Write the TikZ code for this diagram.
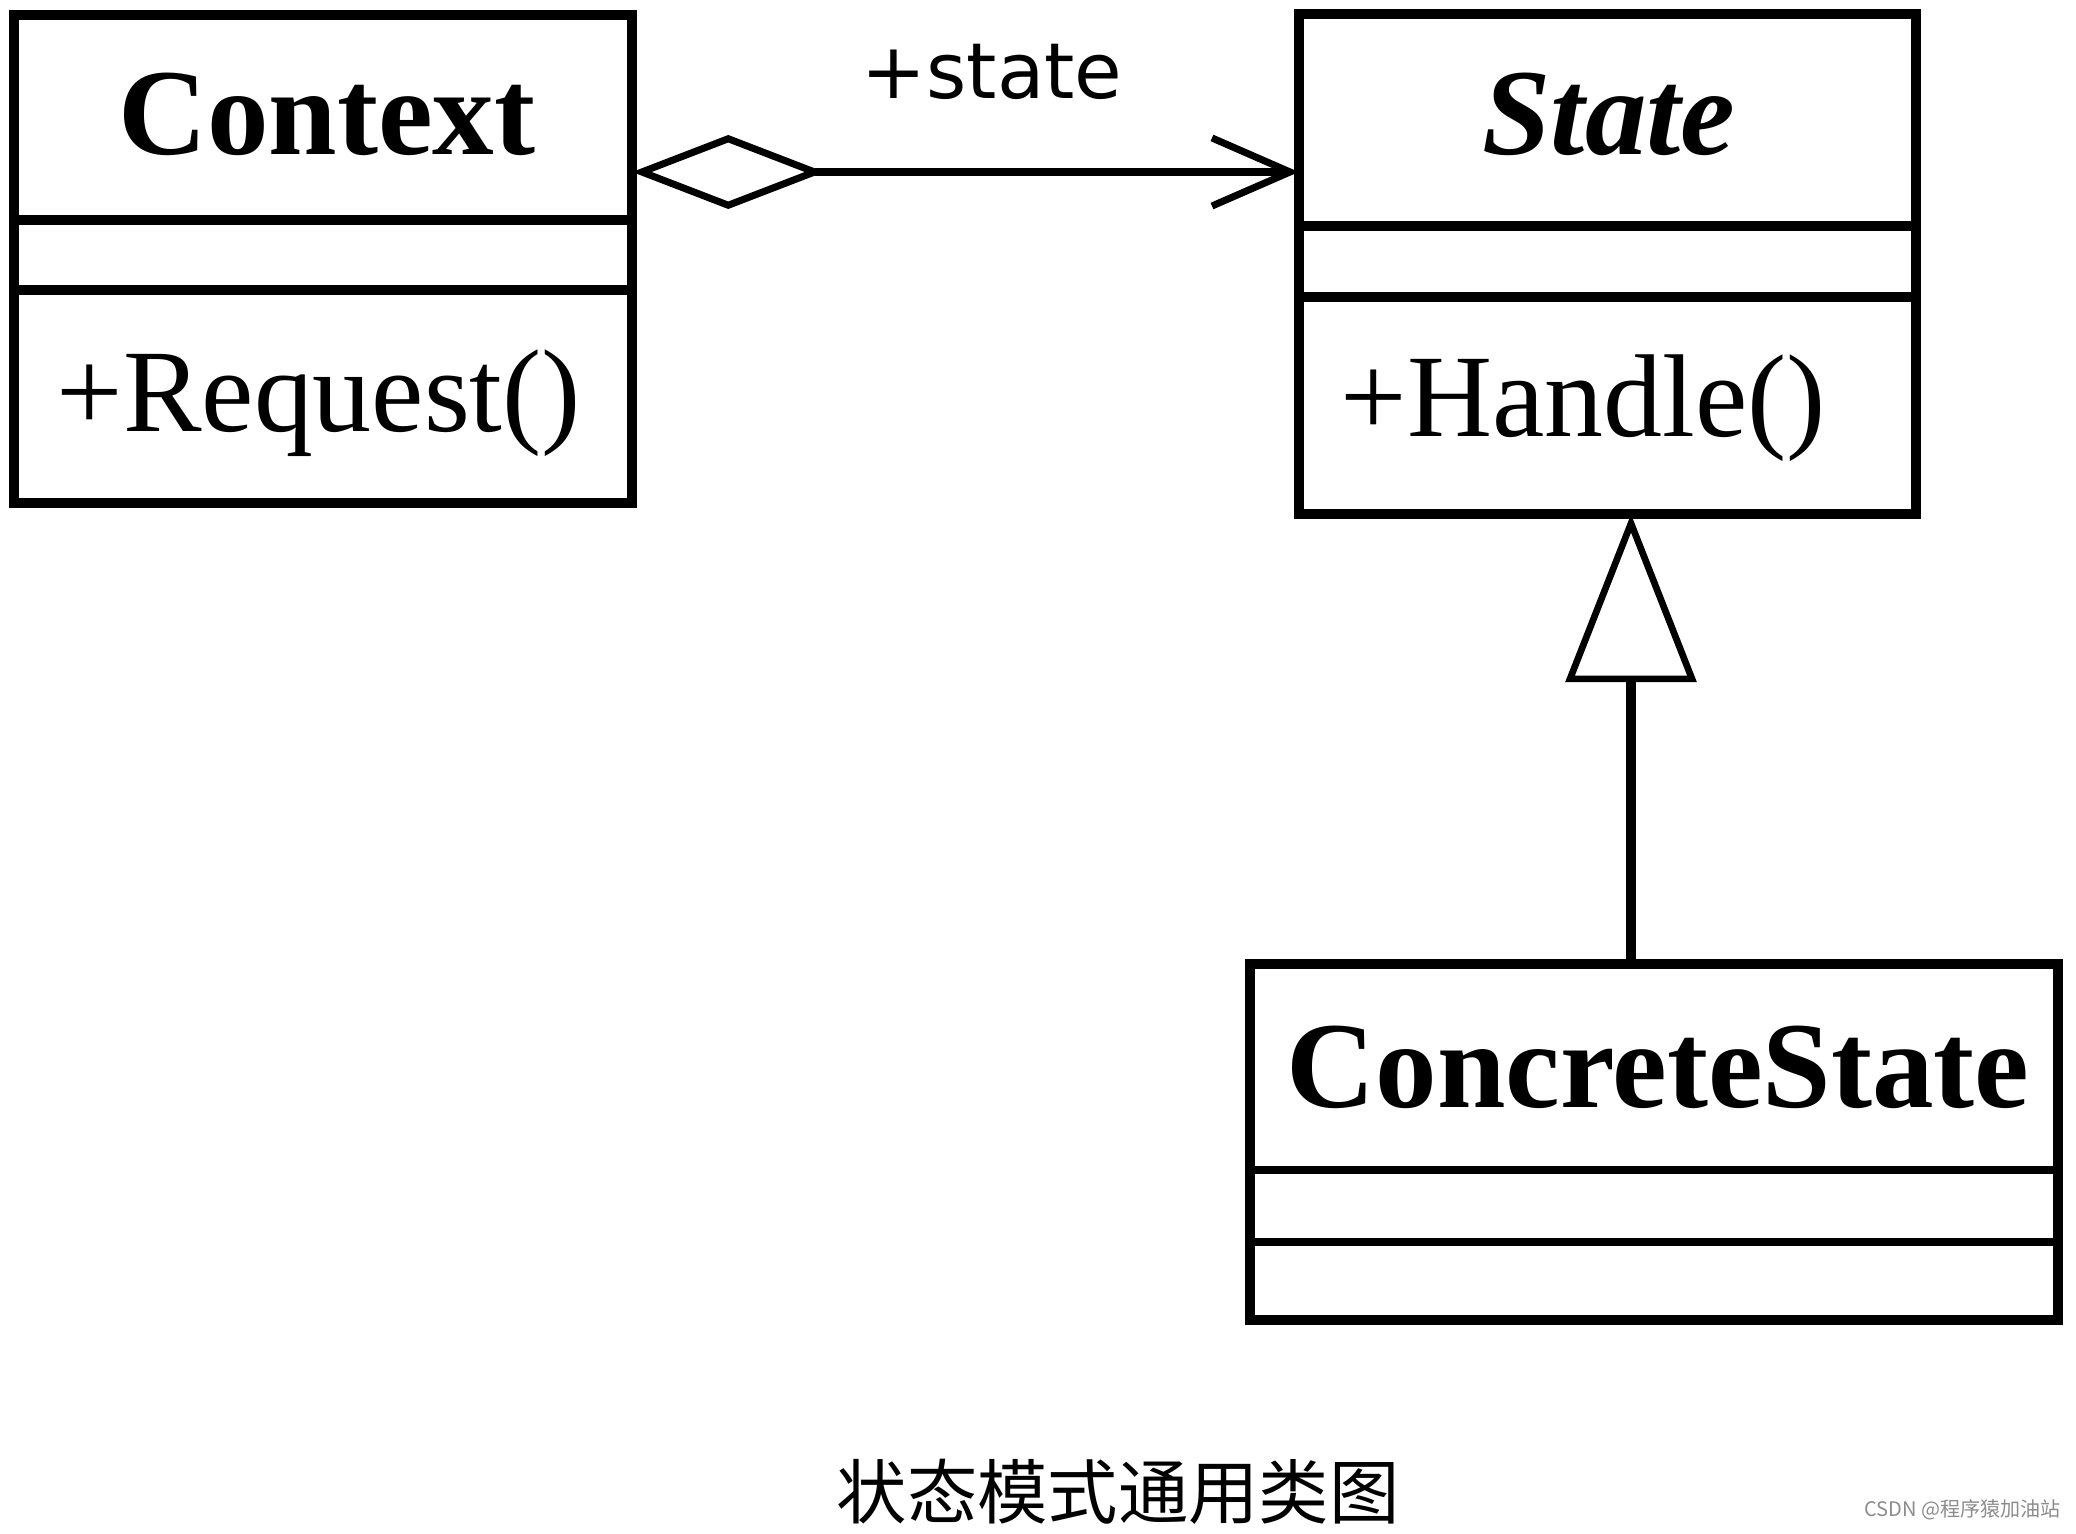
\documentclass[tikz,border=0pt]{standalone}
\usepackage{fontspec}
\setmainfont{Liberation Serif}
\newfontfamily\labelfont{DejaVu Sans}
\newfontfamily\cjkfont{Noto Sans CJK SC}
\usetikzlibrary{arrows.meta}

\begin{document}
\begin{tikzpicture}[x=0.01cm, y=-0.01cm,
	classbox/.style={draw, line width=2.8pt, inner sep=0pt, outer sep=0pt},
	classname/.style={font=\fontsize{35}{40}\selectfont\bfseries, anchor=base, inner sep=0pt},
	method/.style={font=\fontsize{33.5}{38}\selectfont, anchor=base west, inner sep=0pt},
	divider/.style={line width=2.8pt},
	thindivider/.style={line width=2.1pt}]
				\useasboundingbox (0,0) rectangle (2076,1534);
				\fill[white] (0,0) rectangle (2076,1534);
				%Classe Context
				\node[classbox, minimum width=6.18cm, minimum height=4.88cm] (ctx) at (323,259) {};
				\node[classname] (ctxname) at (327,155) {Context};
				\draw[divider] (ctx.west |- 0,220) -- (ctx.east |- 0,220);
				\draw[divider] (ctx.west |- 0,290) -- (ctx.east |- 0,290);
				\node[method] (request) at (56,432) {+Request()};
				%Classe State
				\node[classbox, minimum width=6.17cm, minimum height=5.0cm] (st) at (1607.5,264) {};
				\node[classname, font=\fontsize{35}{40}\selectfont\bfseries\itshape] (stname) at (1609,155) {State};
				\draw[divider] (st.west |- 0,226) -- (st.east |- 0,226);
				\draw[divider] (st.west |- 0,297) -- (st.east |- 0,297);
				\node[method] (handle) at (1340,437) {+Handle()};
				%Classe ConcreteState
				\node[classbox, minimum width=8.08cm, minimum height=3.55cm] (cs) at (1654,1142) {};
				\node[classname] (csname) at (1658,1107) {ConcreteState};
				\draw[thindivider] (cs.west |- 0,1170) -- (cs.east |- 0,1170);
				\draw[thindivider] (cs.west |- 0,1242) -- (cs.east |- 0,1242);
				%Agregacio
				\draw[line width=2pt, {Diamond[open, length=1.92cm, width=0.74cm]}-{Straight Barb[length=0.78cm, width=0.68cm]}]
					(ctx.east |- 0,172) -- (st.west |- 0,172);
				\node[font=\labelfont\fontsize{22}{26}\selectfont, anchor=base, inner sep=0pt] (statelabel) at (992,99) {+state};
				%Herencia
				\coordinate (genx) at (1631,0);
				\draw[line width=2.6pt, -{Triangle[open, length=1.68cm, width=1.3cm, line width=1.9pt]}]
					(cs.north -| genx) -- (st.south -| genx);
				%Titol
				\node[font=\cjkfont\fontsize{20}{24}\selectfont] (caption) at (1118,1492) {状态模式通用类图};
				\node[font=\cjkfont\fontsize{5.7}{7}\selectfont, text=black!45, anchor=east, inner sep=0pt] (mark) at (2061,1510) {CSDN @程序猿加油站};
\end{tikzpicture}
\end{document}
